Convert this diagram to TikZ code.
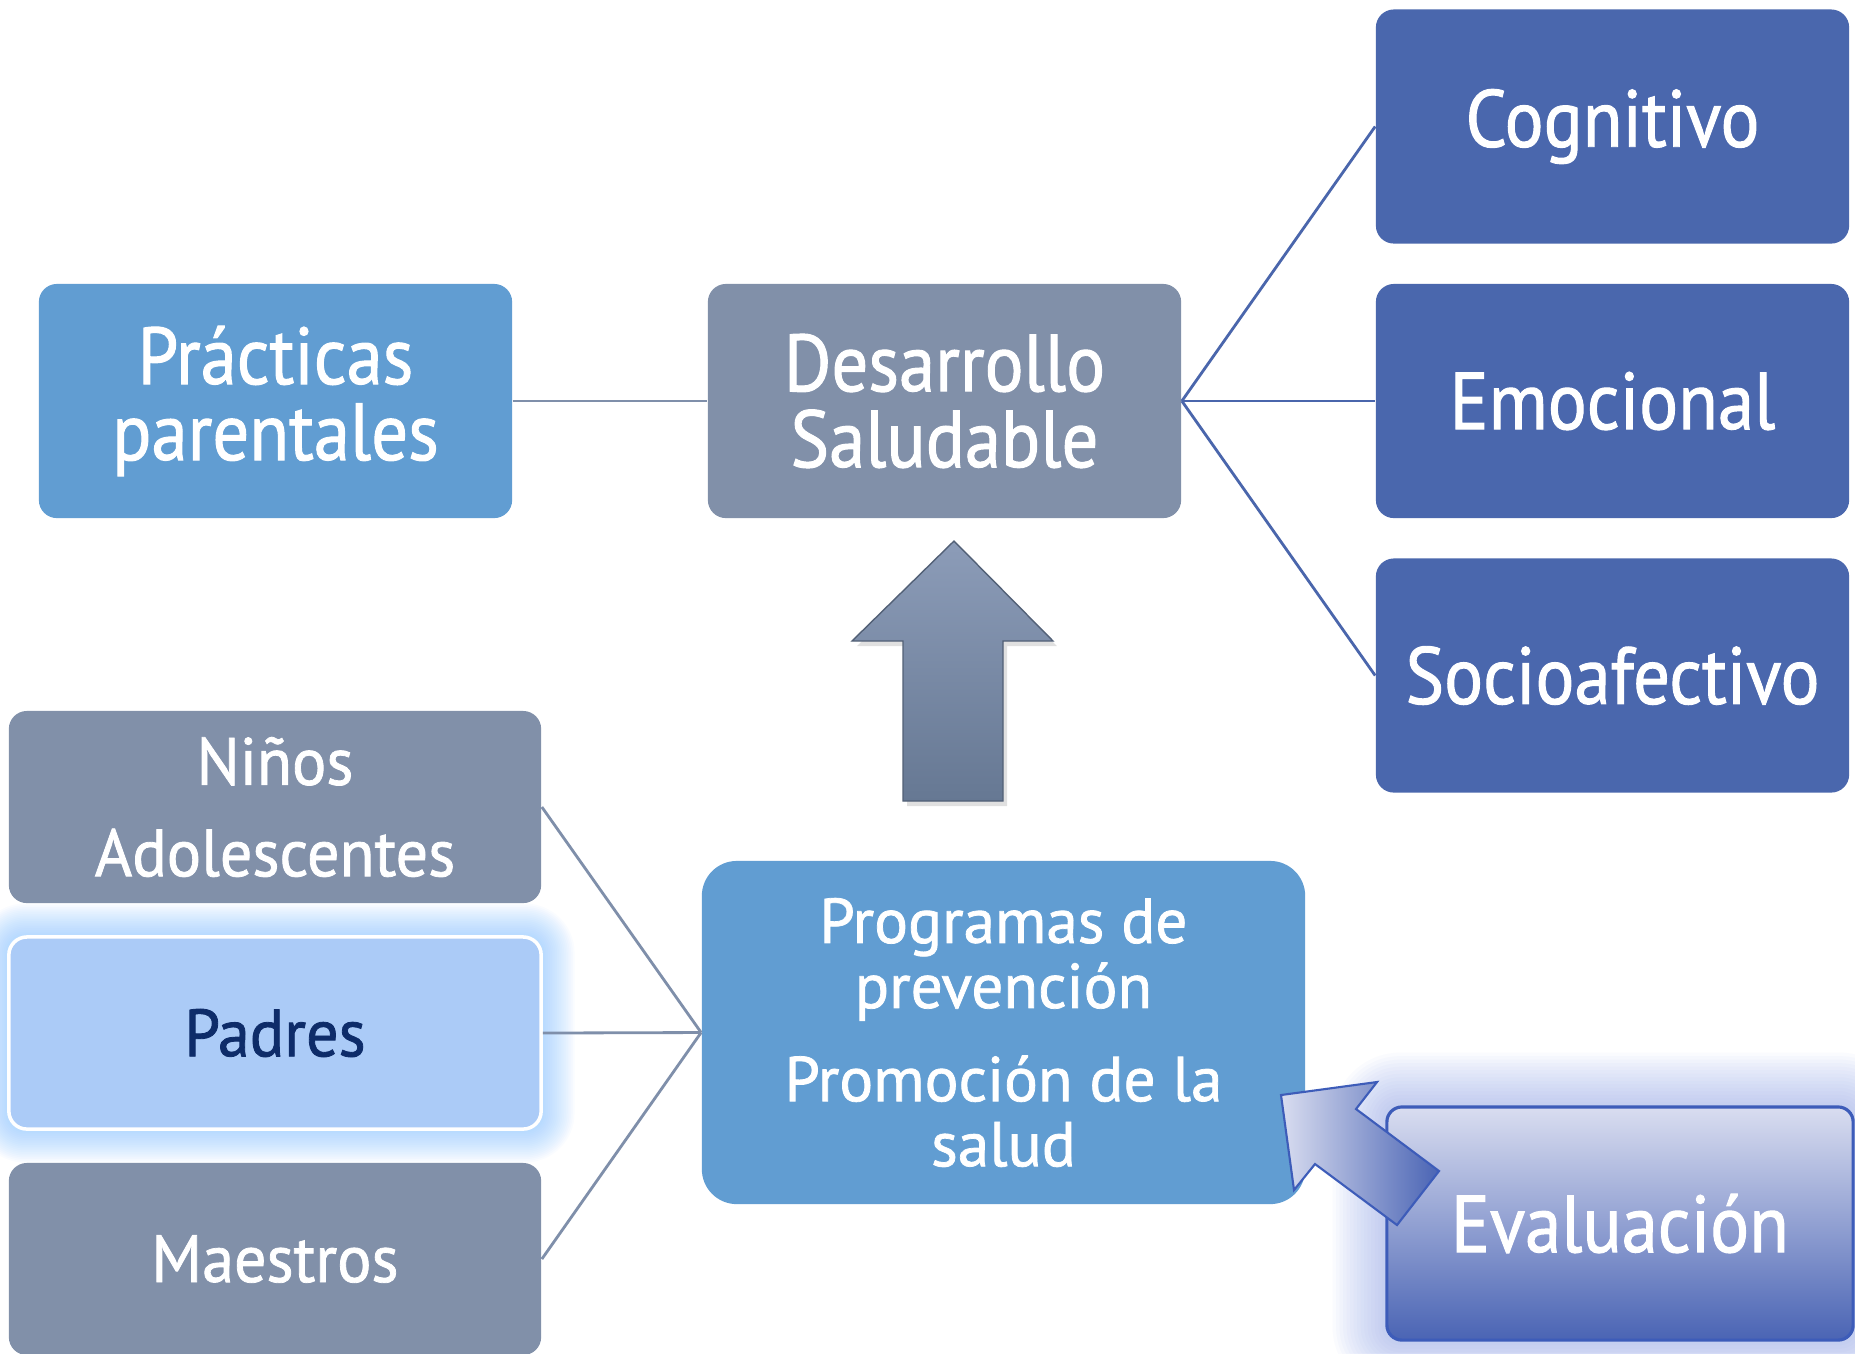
\documentclass[tikz,border=0pt]{standalone}
\usepackage{fontspec}
\setmainfont{PT Sans}
\newfontfamily\bigfont[FakeStretch=0.9, FakeBold=1.2]{PT Sans}
\newfontfamily\midfont[FakeStretch=0.96, FakeBold=1.2]{PT Sans}
\newfontfamily\smallfont[FakeStretch=1.0, FakeBold=1.2]{PT Sans}
\definecolor{cblue}{HTML}{619DD2}
\definecolor{cgray}{HTML}{8190A9}
\definecolor{cdark}{HTML}{4A67AD}
\definecolor{cpad}{HTML}{ABCBF7}
\definecolor{cpadtext}{HTML}{0E2C69}
\definecolor{cglow}{HTML}{8CC8FF}
\definecolor{eglow}{HTML}{93A6EA}
\definecolor{lgray}{HTML}{7F8FAA}
\definecolor{lblue}{HTML}{4A66AC}
\definecolor{etop}{HTML}{D9DDF0}
\definecolor{emid}{HTML}{9AA9E6}
\definecolor{ebot}{HTML}{4A64B4}
\definecolor{eborder}{HTML}{3D5CB9}
\definecolor{atop}{HTML}{8C9CB8}
\definecolor{abot}{HTML}{667893}
\pgfdeclarelayer{bg}\pgfdeclarelayer{glow}\pgfsetlayers{bg,glow,main}
\begin{document}
\begin{tikzpicture}[x=0.01cm,y=-0.01cm,
  box/.style={rounded corners=0.18cm, inner sep=0pt, align=center, text=white},
  bigtxt/.style={font=\bigfont\fontsize{23}{21.6}\selectfont},
  midtxt/.style={font=\midfont\fontsize{19}{20}\selectfont},
  smalltxt/.style={font=\smallfont\fontsize{18}{18.5}\selectfont},
  wide/.style={minimum width=4.73cm, minimum height=2.34cm},
  side/.style={minimum width=5.32cm, minimum height=1.92cm},
  graylink/.style={draw=lgray, line width=0.8pt},
  bluelink/.style={draw=lblue, line width=0.8pt},
]
\begin{pgfonlayer}{bg}
\fill[white] (0,0) rectangle (1855,1353);
\end{pgfonlayer}
\useasboundingbox (0,0) rectangle (1855,1353);

% top row
\node[box, wide, bigtxt, fill=cblue] (prac) at (275.5,401) {Prácticas\\parentales};
\node[box, wide, bigtxt, fill=cgray] (des) at (944.5,401) {Desarrollo\\Saludable};
\node[box, wide, bigtxt, fill=cdark] (cog) at (1612.5,126.5) {Cognitivo};
\node[box, wide, bigtxt, fill=cdark] (emo) at (1612.5,401) {Emocional};
\node[box, wide, bigtxt, fill=cdark] (soc) at (1612.5,675.5) {Socioafectivo};

\draw[graylink] (prac.east) -- (des.west);
\draw[bluelink] (des.east) -- (cog.west);
\draw[bluelink] (des.east) -- (emo.west);
\draw[bluelink] (des.east) -- (soc.west);

% up arrow
\fill[black, opacity=0.12] (957,546) -- (1057,646) -- (1007,646) -- (1007,806) -- (907,806) -- (907,646) -- (857,646) -- cycle;
\shade[top color=atop, bottom color=abot, draw=abot!80!black, line width=0.4pt]
  (954,541) -- (1053,641) -- (1003,641) -- (1003,801) -- (903,801) -- (903,641) -- (852,641) -- cycle;

% bottom-left
\node[box, side, midtxt, fill=cgray] (nin) at (275,807) {Niños\\[6pt]Adolescentes};
\node[box, minimum width=5.32cm, minimum height=1.92cm, midtxt, fill=cpad, draw=white, line width=1pt, text=cpadtext] (pad) at (275,1033) {Padres};
\node[box, side, midtxt, fill=cgray] (mae) at (275,1259) {Maestros};
\begin{pgfonlayer}{glow}
\foreach \d in {0.5,1,...,9}{
  \fill[cglow, opacity=0.045, rounded corners=5.1pt+\d pt]
    ([xshift=-\d pt, yshift=-\d pt]pad.south west) rectangle ([xshift=\d pt, yshift=\d pt]pad.north east);
}
\end{pgfonlayer}

\node[box, smalltxt, fill=cblue, rounded corners=0.35cm, minimum width=6.03cm, minimum height=3.43cm] (prog) at (1003.5,1032.5)
  {Programas de\\prevención\\[8pt]Promoción de la\\salud};

\draw[graylink] (nin.east) -- (prog.west);
\draw[graylink] (pad.east) -- (prog.west);
\draw[graylink] (mae.east) -- (prog.west);

% evaluation
\node[box, bigtxt, minimum width=4.66cm, minimum height=2.33cm, rounded corners=0.15cm,
  top color=etop, middle color=emid, bottom color=ebot, draw=eborder, line width=0.9pt] (eva) at (1620,1223.5) {Evaluación};
\begin{pgfonlayer}{glow}
\foreach \d in {1,2,...,15}{
  \fill[eglow, opacity=0.045, rounded corners=4.3pt+\d pt]
    ([xshift=-\d pt, yshift=-\d pt]eva.south west) rectangle ([xshift=\d pt, yshift=\d pt]eva.north east);
}
\end{pgfonlayer}

\shade[left color=etop, right color=ebot, draw=eborder, line width=0.6pt]
  (1281,1095) -- (1377,1082) -- (1356,1109) -- (1439,1171) -- (1397,1225) -- (1315,1164) -- (1294,1190) -- cycle;
\end{tikzpicture}
\end{document}
